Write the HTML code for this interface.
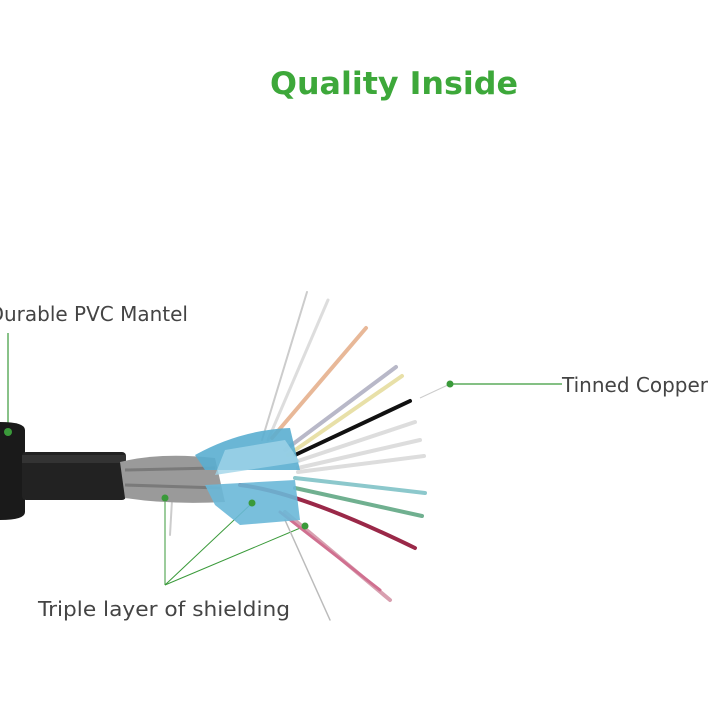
<!DOCTYPE html>
<html><head><meta charset="utf-8"><style>
html,body{margin:0;padding:0;background:#fff;}
svg{display:block}
</style></head><body>
<svg width="720" height="720" viewBox="0 0 720 720" xmlns="http://www.w3.org/2000/svg" font-family="DejaVu Sans, Liberation Sans, sans-serif">
<rect width="720" height="720" fill="#fff"/>
<text x="394" y="94" text-anchor="middle" font-size="31" font-weight="bold" fill="#3da83a" textLength="248" lengthAdjust="spacingAndGlyphs">Quality Inside</text>
<text x="188" y="321" text-anchor="end" font-size="20" fill="#444">Durable PVC Mantel</text>
<line x1="8" y1="333" x2="8" y2="432" stroke="#3a9a3a" stroke-width="1.2"/>
<text x="562" y="392" font-size="20" fill="#444">Tinned Copper</text>
<line x1="450" y1="384" x2="562" y2="384" stroke="#3a9a3a" stroke-width="1.2"/>
<line x1="450" y1="384" x2="420" y2="398" stroke="#ccc" stroke-width="1"/>
<text x="38" y="616" font-size="20" fill="#444" textLength="252" lengthAdjust="spacingAndGlyphs">Triple layer of shielding</text>
<g stroke="#3a9a3a" stroke-width="1" fill="none">
<line x1="165" y1="585" x2="165" y2="498"/>
<line x1="165" y1="585" x2="250" y2="505"/>
<line x1="165" y1="585" x2="305" y2="526"/>
</g>
<g fill="none" stroke-linecap="round">
<path d="M262 440 L307 292" stroke="#ccc" stroke-width="2"/>
<path d="M268 440 L328 300" stroke="#ddd" stroke-width="3"/>
<path d="M272 438 L366 328" stroke="#e8b898" stroke-width="4"/>
<path d="M285 450 L396 367" stroke="#b8b8c8" stroke-width="4"/>
<path d="M288 455 L402 376" stroke="#e8e0a8" stroke-width="4"/>
<path d="M295 455 L410 401" stroke="#111" stroke-width="4"/>
<path d="M295 462 L415 422" stroke="#ddd" stroke-width="4"/>
<path d="M298 468 L420 440" stroke="#ddd" stroke-width="4"/>
<path d="M298 472 L424 456" stroke="#ddd" stroke-width="4"/>
<path d="M295 478 L425 493" stroke="#8cc8cc" stroke-width="4"/>
<path d="M295 488 L422 516" stroke="#70b090" stroke-width="4"/>
<path d="M240 485 Q300 492 415 548" stroke="#9a2848" stroke-width="4"/>
<path d="M285 512 L390 600" stroke="#d8a0b0" stroke-width="4"/>
<path d="M280 512 L380 590" stroke="#d07090" stroke-width="3"/>
<path d="M285 520 L330 620" stroke="#bbb" stroke-width="1.5"/>
<path d="M172 500 L170 535" stroke="#ccc" stroke-width="2"/>
</g>
<path d="M0 422 Q25 422 25 430 L25 512 Q25 520 0 520 Z" fill="#1a1a1a"/>
<rect x="22" y="452" width="104" height="48" rx="4" fill="#222"/>
<rect x="22" y="455" width="104" height="8" fill="#444" opacity=".5"/>
<path d="M120 462 Q160 452 215 458 L225 502 Q170 505 125 498 Z" fill="#9a9a9a"/>
<path d="M125 470 L215 468 M125 485 L220 488" stroke="#666" stroke-width="3" opacity=".6"/>
<path d="M195 455 Q240 430 290 428 L300 470 L205 470 Z" fill="#5aaed0" opacity=".9"/>
<path d="M205 485 L295 480 L300 520 L240 525 L215 505 Z" fill="#6ab8d8" opacity=".9"/>
<path d="M225 450 L285 440 L300 462 L215 475 Z" fill="#a0d4e8" opacity=".8"/>
<g fill="#3a9a3a">
<circle cx="8" cy="432" r="4"/>
<circle cx="450" cy="384" r="3.5"/>
<circle cx="165" cy="498" r="3.5"/>
<circle cx="252" cy="503" r="3.5"/>
<circle cx="305" cy="526" r="3.5"/>
</g>
</svg>
</body></html>
